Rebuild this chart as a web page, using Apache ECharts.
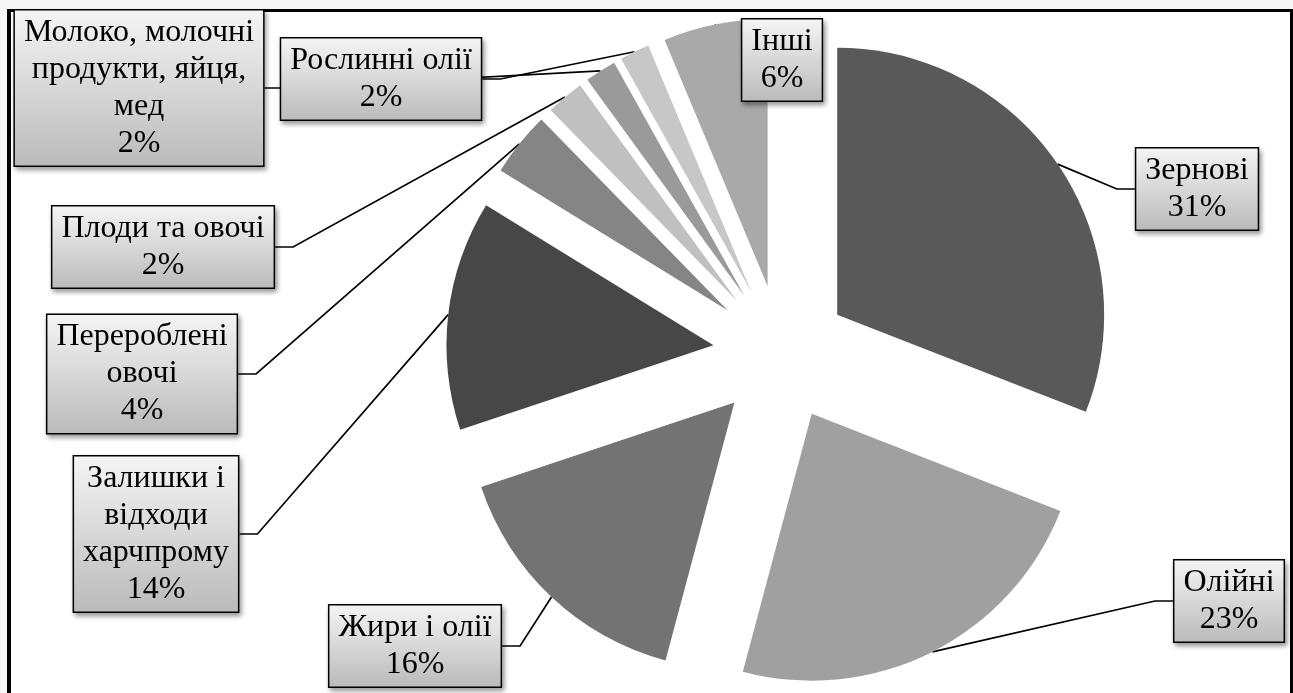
<!DOCTYPE html>
<html>
<head>
<meta charset="utf-8">
<script src="https://cdn.jsdelivr.net/npm/echarts@6/dist/echarts.min.js"></script>
<style>
  html, body { margin: 0; padding: 0; background: #f7f7f7; overflow: hidden; }
  #frame { position: absolute; left: 7px; top: 9px; width: 1279px; height: 720px;
           border: 3px solid #000; border-left-width: 4px; background: #fff; }
  #chart { position: absolute; left: 0; top: 0; width: 1293px; height: 693px; }
</style>
</head>
<body>
<div id="frame"></div>
<div id="chart"></div>
<script>
// Data (share of each category, %)
const categories = [
  'Зернові',
  'Олійні',
  'Жири і олії',
  'Залишки і\nвідходи\nхарчпрому',
  'Перероблені\nовочі',
  'Плоди та овочі',
  'Молоко, молочні\nпродукти, яйця,\nмед',
  'Рослинні олії',
  'Інші'
];
const values = [30.9, 23.2, 15.7, 13.9, 3.9, 2.3, 1.9, 1.8, 6.3];
const colors = ['#595959', '#a0a0a0', '#737373', '#474747', '#858585', '#c0c0c0', '#9a9a9a', '#c7c7c7', '#a9a9a9'];

// Layout only: pie centre, radius, explosion distance, label box centres
const pieCentre = [781, 353];
const pieRadius = 267;
const explode = 68;
const labelCentres = [
  [1197, 189], [1229, 601], [415, 646], [156, 534], [142, 374],
  [163, 247], [139, 88], [381, 79], [782, 60]
];

const chart = echarts.init(document.getElementById('chart'));

const total = values.reduce(function (a, b) { return a + b; }, 0);
let cum = 0;
const series = values.map(function (v, i) {
  const mid = (cum + v / 2) / total * Math.PI * 2;
  cum += v;
  const cx = pieCentre[0] + explode * Math.sin(mid);
  const cy = pieCentre[1] - explode * Math.cos(mid);
  return {
    type: 'pie',
    z: 2,
    center: [cx, cy],
    radius: pieRadius,
    startAngle: 90,
    clockwise: true,
    avoidLabelOverlap: false,
    percentPrecision: 0,
    silent: true,
    itemStyle: { borderWidth: 0 },
    emphasis: { disabled: true },
    label: {
      show: true,
      position: 'outside',
      formatter: '{b}\n{d}%',
      fontFamily: 'Liberation Serif',
      fontSize: 32,
      lineHeight: 37,
      color: '#000',
      align: 'center',
      backgroundColor: new echarts.graphic.LinearGradient(0, 0, 0, 1, [
        { offset: 0, color: '#f5f5f5' },
        { offset: 1, color: '#bababa' }
      ]),
      borderColor: '#000',
      borderWidth: 1.5,
      padding: [4, 9, 3, 9],
      shadowColor: 'rgba(0,0,0,0.35)',
      shadowBlur: 5,
      shadowOffsetX: 2,
      shadowOffsetY: 3
    },
    labelLine: {
      show: true,
      length: 20,
      length2: 18,
      smooth: false,
      lineStyle: { color: '#000', width: 1.7 }
    },
    labelLayout: function (params) {
      if (params.dataIndex !== i) return {};
      const c = labelCentres[i];
      return { x: c[0], y: c[1], align: 'center', verticalAlign: 'middle' };
    },
    data: categories.map(function (name, j) {
      const own = j === i;
      return {
        name: name,
        value: values[j],
        itemStyle: { color: own ? colors[j] : 'rgba(0,0,0,0)' },
        label: { show: own },
        labelLine: { show: own }
      };
    })
  };
});

chart.setOption({
  backgroundColor: 'transparent',
  animation: false,
  series: series
});
</script>
</body>
</html>
